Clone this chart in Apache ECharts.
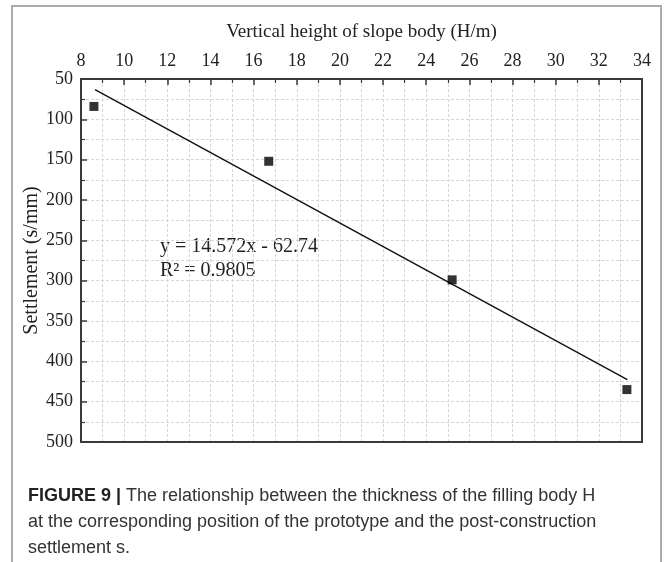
<!DOCTYPE html>
<html><head><meta charset="utf-8">
<script src="https://cdn.jsdelivr.net/npm/echarts@6/dist/echarts.min.js"></script>
<style>html,body{margin:0;padding:0;background:#fff}#c{width:664px;height:562px}</style>
</head><body><div id="c"></div>
<script>
// Data
const heights = [8.6, 16.7, 25.2, 33.3];        // H (m)
const settlements = [84, 152, 299, 435];        // s (mm)
const fitSlope = 14.572;
const fitIntercept = -62.74;
const fitXRange = [8.65, 33.32];
const xAxisRange = [8, 34, 2];
const yAxisRange = [50, 500, 50];
const equationLines = ['y = 14.572x - 62.74', 'R\u00B2 = 0.9805'];
const xTitle = 'Vertical height of slope body (H/m)';
const yTitle = 'Settlement (s/mm)';

const points = heights.map((h, i) => [h, settlements[i]]);
const fitLine = fitXRange.map(x => [x, fitSlope * x + fitIntercept]);

const serif = '"Liberation Serif", "Times New Roman", serif';
const sans = '"Liberation Sans", Arial, sans-serif';
const axisColor = '#3a3a3a';
const gridLine = { show: true, showMinLine: false, showMaxLine: false, lineStyle: { color: '#d6d6d6', type: [3, 2], width: 1 } };
const minorGrid = { show: true, lineStyle: { color: '#d6d6d6', type: [3, 2], width: 1 } };
const frameAxis = {
  type: 'value', axisLine: { show: true, lineStyle: { color: axisColor, width: 2 } },
  axisTick: { show: false }, axisLabel: { show: false }, splitLine: { show: false }
};

const chart = echarts.init(document.getElementById('c'), null, { renderer: 'canvas' });
chart.setOption({
  backgroundColor: '#fff',
  animation: false,
  grid: { left: 81, right: 22, top: 79, bottom: 120, show: true, borderColor: axisColor, borderWidth: 0, backgroundColor: '#fff' },
  xAxis: [{
    type: 'value', position: 'top',
    min: xAxisRange[0], max: xAxisRange[1], interval: xAxisRange[2],
    name: xTitle, nameLocation: 'middle', nameGap: 37, nameMoveOverlap: false,
    nameTextStyle: { fontFamily: serif, fontSize: 19, color: '#222' },
    axisLine: { show: true, lineStyle: { color: axisColor, width: 2 } },
    axisTick: { show: true, inside: true, length: 6, lineStyle: { color: axisColor, width: 1.5 } },
    minorTick: { show: true, splitNumber: 2, length: 4, lineStyle: { color: axisColor, width: 1.2 } },
    axisLabel: { fontFamily: serif, fontSize: 18, color: '#222', margin: 9 },
    splitLine: gridLine,
    minorSplitLine: minorGrid
  }, Object.assign({ position: 'bottom', min: xAxisRange[0], max: xAxisRange[1] }, frameAxis)],
  yAxis: [{
    type: 'value', inverse: true,
    min: yAxisRange[0], max: yAxisRange[1], interval: yAxisRange[2],
    name: yTitle, nameLocation: 'middle', nameGap: 39, nameRotate: 90, nameMoveOverlap: false,
    nameTextStyle: { fontFamily: serif, fontSize: 20, color: '#222' },
    axisLine: { show: true, lineStyle: { color: axisColor, width: 2 } },
    axisTick: { show: true, inside: true, length: 6, lineStyle: { color: axisColor, width: 1.5 } },
    minorTick: { show: true, splitNumber: 2, length: 4, lineStyle: { color: axisColor, width: 1.2 } },
    axisLabel: { fontFamily: serif, fontSize: 18, color: '#222', margin: 8 },
    splitLine: gridLine,
    minorSplitLine: minorGrid
  }, Object.assign({ position: 'right', inverse: true, min: yAxisRange[0], max: yAxisRange[1] }, frameAxis)],
  series: [
    {
      type: 'line', data: fitLine, showSymbol: false, symbol: 'none',
      lineStyle: { color: '#111', width: 1.4 }, z: 3
    },
    {
      type: 'scatter', data: points, symbol: 'rect', symbolSize: 9,
      itemStyle: { color: '#000' }, z: 4
    }
  ],
  graphic: [
    { type: 'rect', shape: { x: 12, y: 6, width: 649, height: 600 },
      style: { fill: 'none', stroke: '#ababab', lineWidth: 2 }, silent: true, z: -1 },
    { type: 'text', left: 160, top: 237, style: { text: equationLines[0], font: '20px ' + serif, fill: '#222' } },
    { type: 'text', left: 160, top: 261, style: { text: equationLines[1], font: '20px ' + serif, fill: '#222' } },
    { type: 'text', left: 28, top: 487, style: {
        text: '{b|FIGURE 9 | }{r|The relationship between the thickness of the filling body H}',
        rich: {
          b: { fontFamily: sans, fontSize: 18, fontWeight: 'bold', fill: '#222' },
          r: { fontFamily: sans, fontSize: 18, fill: '#333' }
        } } },
    { type: 'text', left: 28, top: 513, style: { text: 'at the corresponding position of the prototype and the post-construction', font: '18px ' + sans, fill: '#333' } },
    { type: 'text', left: 28, top: 539, style: { text: 'settlement s.', font: '18px ' + sans, fill: '#333' } }
  ]
});
</script>
</body></html>
